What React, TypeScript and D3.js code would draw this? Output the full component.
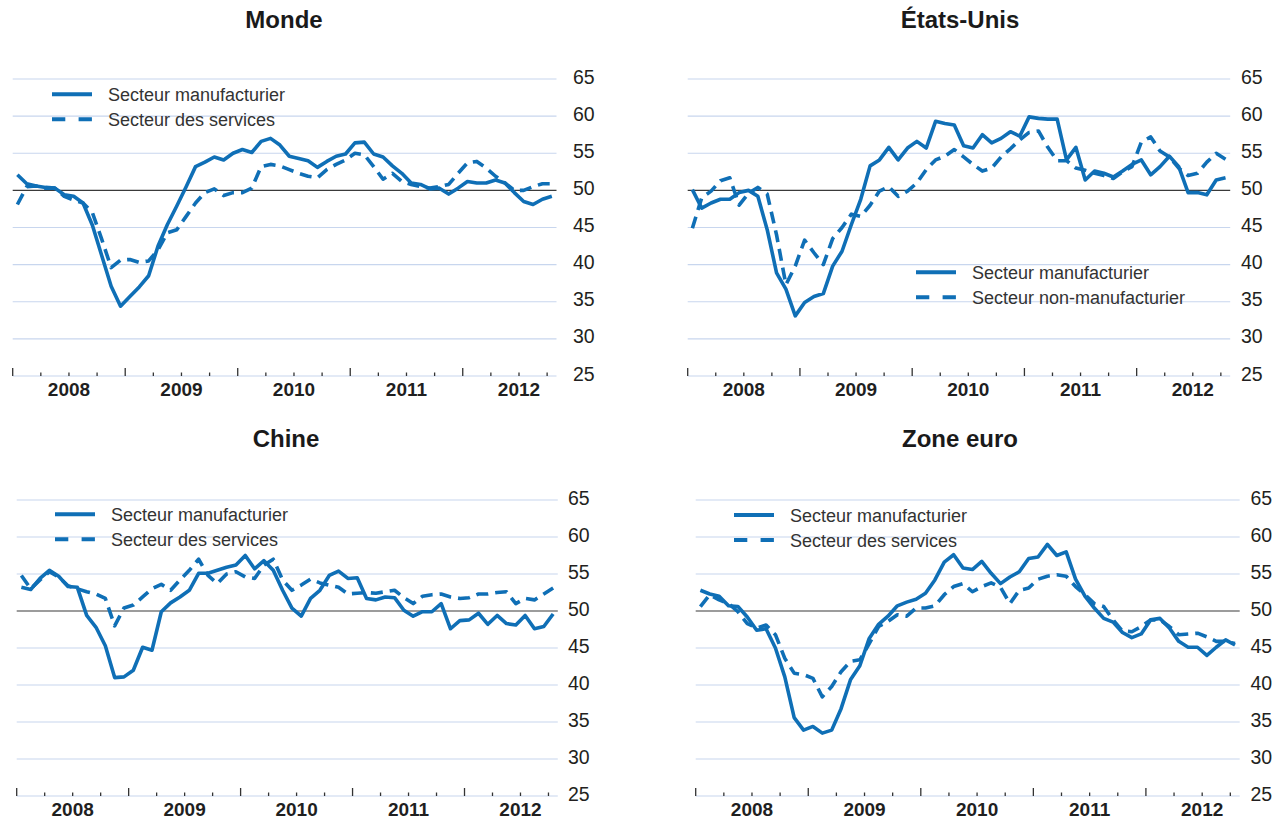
import React from "react";
import * as d3 from "d3";

// ---- Data (monthly, Jan 2008 – Oct 2012) ----
const yearLabels = ["2008", "2009", "2010", "2011", "2012"];
const yTicks = [25, 30, 35, 40, 45, 50, 55, 60, 65];

const mondeManuf = [52.1, 50.9, 50.6, 50.4, 50.3, 49.4, 49.2, 48.3, 45.3, 41.2, 37.1, 34.4, 35.7, 37.0, 38.5, 42.5, 45.4, 47.9, 50.5, 53.2, 53.8, 54.5, 54.1, 55.0, 55.5, 55.1, 56.6, 57.0, 56.1, 54.6, 54.3, 54.0, 53.1, 53.9, 54.6, 54.9, 56.4, 56.5, 54.9, 54.5, 53.3, 52.3, 51.0, 50.8, 50.2, 50.3, 49.5, 50.3, 51.2, 51.0, 51.0, 51.4, 51.0, 49.7, 48.5, 48.1, 48.8, 49.2];
const mondeServ = [48.1, 50.5, 50.6, 50.3, 50.3, 49.2, 48.7, 48.3, 47.0, 43.4, 39.6, 40.6, 40.7, 40.3, 40.5, 42.0, 44.3, 44.7, 46.5, 48.3, 49.7, 50.2, 49.3, 49.7, 49.7, 50.3, 53.2, 53.5, 53.3, 52.8, 52.3, 51.9, 51.7, 52.8, 53.5, 54.1, 55.0, 54.8, 53.2, 51.5, 52.3, 51.2, 50.8, 50.5, 50.3, 50.5, 50.8, 52.3, 53.7, 53.9, 53.0, 51.9, 51.0, 50.0, 50.0, 50.5, 50.9, 50.9];

const usManuf = [50.1, 47.6, 48.3, 48.8, 48.8, 49.7, 50.0, 49.2, 44.7, 38.9, 36.7, 33.1, 34.9, 35.7, 36.1, 39.8, 41.8, 45.4, 48.8, 53.3, 54.1, 55.8, 54.1, 55.7, 56.6, 55.7, 59.3, 59.0, 58.8, 56.0, 55.7, 57.5, 56.4, 57.0, 57.9, 57.3, 59.9, 59.7, 59.6, 59.6, 54.1, 55.8, 51.4, 52.6, 52.3, 51.8, 52.6, 53.5, 54.1, 52.1, 53.2, 54.6, 53.2, 49.7, 49.7, 49.4, 51.4, 51.7];
const usNonManuf = [44.9, 49.0, 49.9, 51.3, 51.7, 48.0, 49.6, 50.4, 49.5, 44.0, 37.3, 39.8, 43.3, 41.6, 40.0, 43.5, 45.0, 46.8, 46.5, 48.0, 49.9, 50.5, 49.2, 49.9, 51.0, 52.8, 54.1, 54.6, 55.5, 54.5, 53.5, 52.6, 53.0, 54.5, 55.6, 56.8, 57.8, 58.0, 55.8, 54.0, 54.0, 53.0, 52.7, 52.3, 52.0, 51.6, 52.5, 53.2, 56.5, 57.2, 55.3, 54.5, 53.0, 52.0, 52.3, 53.8, 55.0, 54.2];

const chinaManuf = [53.2, 52.9, 54.4, 55.5, 54.7, 53.3, 53.2, 49.4, 47.8, 45.3, 41.0, 41.1, 42.0, 45.1, 44.7, 49.9, 51.1, 51.9, 52.8, 55.1, 55.1, 55.5, 55.9, 56.2, 57.5, 55.7, 56.8, 55.5, 52.8, 50.4, 49.3, 51.7, 52.8, 54.8, 55.4, 54.4, 54.5, 51.7, 51.5, 51.9, 51.8, 50.1, 49.3, 49.9, 49.9, 51.0, 47.6, 48.7, 48.8, 49.7, 48.2, 49.4, 48.3, 48.1, 49.4, 47.6, 47.9, 49.6];
const chinaServ = [54.8, 53.0, 54.2, 55.3, 54.6, 53.4, 53.0, 52.6, 52.3, 51.7, 48.0, 50.4, 50.8, 51.9, 53.0, 53.6, 52.8, 54.2, 55.5, 57.0, 54.8, 53.7, 55.0, 55.3, 54.6, 54.4, 56.2, 57.0, 54.2, 52.8, 53.5, 54.3, 53.8, 53.5, 53.2, 52.3, 52.4, 52.5, 52.4, 52.6, 52.8, 51.8, 51.0, 52.0, 52.2, 52.3, 51.9, 51.7, 51.8, 52.3, 52.3, 52.5, 52.6, 51.0, 51.7, 51.5, 52.3, 53.1];

const euroManuf = [52.8, 52.3, 52.0, 50.7, 50.6, 49.2, 47.4, 47.6, 45.0, 41.1, 35.6, 33.9, 34.4, 33.5, 33.9, 36.8, 40.7, 42.6, 46.3, 48.2, 49.3, 50.7, 51.2, 51.6, 52.4, 54.2, 56.6, 57.6, 55.8, 55.6, 56.7, 55.1, 53.7, 54.6, 55.3, 57.1, 57.3, 59.0, 57.5, 58.0, 54.3, 52.0, 50.4, 49.0, 48.5, 47.1, 46.4, 46.9, 48.8, 49.0, 47.7, 45.9, 45.1, 45.1, 44.0, 45.1, 46.1, 45.4];
const euroServ = [50.6, 52.2, 51.5, 51.0, 49.9, 48.3, 47.7, 48.1, 46.8, 43.6, 41.6, 41.4, 40.9, 38.4, 39.8, 41.8, 43.2, 43.4, 45.6, 47.9, 48.6, 49.5, 49.3, 50.4, 50.4, 50.7, 52.2, 53.3, 53.7, 52.6, 53.3, 53.8, 53.2, 51.0, 52.8, 53.1, 54.3, 54.7, 54.9, 54.7, 53.3, 52.2, 51.0, 50.6, 48.8, 47.3, 47.2, 47.9, 48.8, 48.8, 47.9, 46.8, 46.9, 47.0, 46.5, 45.9, 45.9, 45.6];

const N_MONTHS = 58;
const BLUE = "#0f6fb6";
const FONT = "'Liberation Sans', Arial, Helvetica, sans-serif";

type Panel = {
  title: string;
  solid: number[];
  dashed: number[];
  solidLabel: string;
  dashedLabel: string;
  x0: number; x1: number; yTop: number; yBot: number;
  labelX: number; titleX: number; titleY: number;
  legX: number; legY: number;
};

const panels: Panel[] = [
  { title: "Monde", solid: mondeManuf, dashed: mondeServ, solidLabel: "Secteur manufacturier", dashedLabel: "Secteur des services",
    x0: 12.7, x1: 556.5, yTop: 79, yBot: 376, labelX: 573, titleX: 284, titleY: 28, legX: 52, legY: 94.3 },
  { title: "États-Unis", solid: usManuf, dashed: usNonManuf, solidLabel: "Secteur manufacturier", dashedLabel: "Secteur non-manufacturier",
    x0: 687.7, x1: 1230.2, yTop: 79, yBot: 376, labelX: 1241, titleX: 960, titleY: 28, legX: 916, legY: 272.3 },
  { title: "Chine", solid: chinaManuf, dashed: chinaServ, solidLabel: "Secteur manufacturier", dashedLabel: "Secteur des services",
    x0: 16.7, x1: 557.8, yTop: 500, yBot: 796, labelX: 568, titleX: 286, titleY: 447, legX: 55, legY: 514.3 },
  { title: "Zone euro", solid: euroManuf, dashed: euroServ, solidLabel: "Secteur manufacturier", dashedLabel: "Secteur des services",
    x0: 695.7, x1: 1239.7, yTop: 500, yBot: 796, labelX: 1250.5, titleX: 960, titleY: 447, legX: 734, legY: 515 },
];

function PanelChart({ p }: { p: Panel }) {
  const x = d3.scaleLinear().domain([0, N_MONTHS]).range([p.x0, p.x1]);
  const y = d3.scaleLinear().domain([25, 65]).range([p.yBot, p.yTop]);
  const line = d3.line<number>().x((_, i) => x(i + 0.5)).y((v) => y(v));
  const quarterTicks = d3.range(0, N_MONTHS, 3);
  return (
    <g>
      <text x={p.titleX} y={p.titleY} textAnchor="middle" fontFamily={FONT} fontWeight="bold" fontSize={24} fill="#1a1a1a">{p.title}</text>
      {yTicks.map((t) => (
        <g key={t}>
          {t !== 50 && <line x1={p.x0} x2={p.x1} y1={y(t)} y2={y(t)} stroke="#c8d6ee" strokeWidth={1.2} />}
          <text x={p.labelX} y={y(t) + 4.5} fontFamily={FONT} fontSize={19.5} fill="#231f20">{t}</text>
        </g>
      ))}
      <line x1={p.x0} x2={p.x1} y1={y(50)} y2={y(50)} stroke="#3a3a3a" strokeWidth={1.2} />
      {quarterTicks.map((q) => (
        <line key={q} x1={x(q)} x2={x(q)} y1={y(25)} y2={y(25) - (q % 12 === 0 ? 8 : 3.5)} stroke="#333" strokeWidth={1.3} />
      ))}
      {yearLabels.map((lab, k) => (
        <text key={lab} x={x(k * 12 + 6)} y={y(25) + 20} textAnchor="middle" fontFamily={FONT} fontWeight="bold" fontSize={19} fill="#1f1f1f">{lab}</text>
      ))}
      <path d={line(p.dashed) || ""} fill="none" stroke={BLUE} strokeWidth={3.6} strokeDasharray="12,7" strokeLinejoin="round" />
      <path d={line(p.solid) || ""} fill="none" stroke={BLUE} strokeWidth={3.6} strokeLinejoin="round" />
      <line x1={p.legX} x2={p.legX + 40} y1={p.legY} y2={p.legY} stroke={BLUE} strokeWidth={4} />
      <line x1={p.legX} x2={p.legX + 40} y1={p.legY + 25} y2={p.legY + 25} stroke={BLUE} strokeWidth={4} strokeDasharray="13.3,13.3" />
      <text x={p.legX + 56} y={p.legY + 7} fontFamily={FONT} fontSize={18} fill="#333">{p.solidLabel}</text>
      <text x={p.legX + 56} y={p.legY + 32} fontFamily={FONT} fontSize={18} fill="#333">{p.dashedLabel}</text>
    </g>
  );
}

export default function App() {
  return (
    <svg width={1274} height={821} style={{ position: "absolute", left: 0, top: 0, background: "#fff" }}>
      <rect width={1274} height={821} fill="#fff" />
      {panels.map((p) => <PanelChart key={p.title} p={p} />)}
    </svg>
  );
}
